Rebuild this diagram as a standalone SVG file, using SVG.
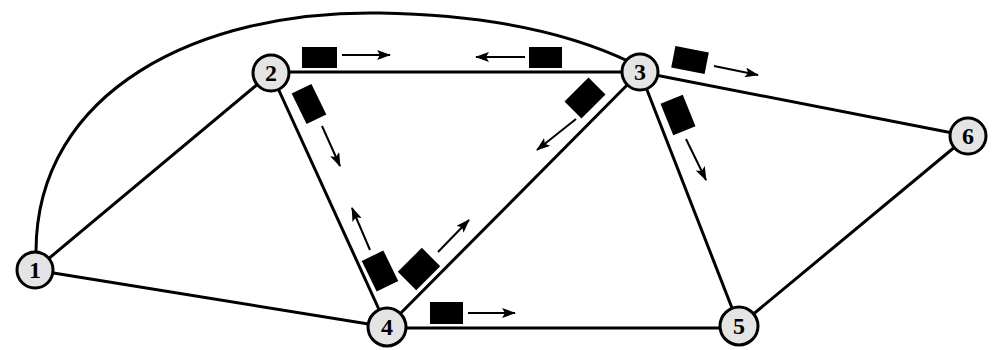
<svg xmlns="http://www.w3.org/2000/svg" width="992" height="350" viewBox="0 0 992 350">
<style>
.edge{stroke:#000;stroke-width:3;fill:none;stroke-linecap:round}
.node circle{fill:#e4e4e4;stroke:#000;stroke-width:3}
.node text{font-family:"Liberation Serif",serif;font-weight:bold;font-size:24px;text-anchor:middle;fill:#000}
.pkt{fill:#000}
.arr{stroke:#000;stroke-width:2;fill:none;marker-end:url(#ah)}
</style>
<defs>
<marker id="ah" markerWidth="14" markerHeight="10" refX="13" refY="5" orient="auto" markerUnits="userSpaceOnUse">
<path d="M0,0 L14,5 L0,10 L3,5 Z" fill="#000"/>
</marker>
</defs>
<rect width="992" height="350" fill="#fff"/>
<g id="connectors">
<path class="edge" d="M36,252 C36,90 200,10 380,13 C500,15 580,38 630,62"/>
<line class="edge" x1="35" y1="270" x2="271" y2="73"/>
<line class="edge" x1="35" y1="270" x2="387" y2="327"/>
<line class="edge" x1="271" y1="72" x2="640" y2="72"/>
<line class="edge" x1="271" y1="73" x2="387" y2="327"/>
<line class="edge" x1="640" y1="72" x2="387" y2="327"/>
<line class="edge" x1="640" y1="72" x2="739" y2="326"/>
<line class="edge" x1="640" y1="72" x2="968" y2="136"/>
<line class="edge" x1="387" y1="328" x2="739" y2="328"/>
<line class="edge" x1="739" y1="326" x2="968" y2="136"/>
</g>
<g id="packets">
<rect class="pkt" x="302" y="47" width="35" height="21"/>
<rect class="pkt" x="529" y="47" width="33" height="21"/>
<rect class="pkt" x="-17" y="-11" width="34" height="22" transform="translate(309,104) rotate(64)"/>
<rect class="pkt" x="-17" y="-12" width="34" height="24" transform="translate(585,98) rotate(-45)"/>
<rect class="pkt" x="-17" y="-11" width="34" height="22" transform="translate(690,60) rotate(11)"/>
<rect class="pkt" x="-17" y="-12" width="34" height="24" transform="translate(678,115) rotate(68)"/>
<rect class="pkt" x="-17" y="-12" width="34" height="24" transform="translate(380,271) rotate(64)"/>
<rect class="pkt" x="-17" y="-13" width="34" height="26" transform="translate(419,269) rotate(-45)"/>
<rect class="pkt" x="430" y="302" width="33" height="22"/>
</g>
<g id="arrows">
<line class="arr" x1="342" y1="55" x2="390" y2="55"/>
<line class="arr" x1="525" y1="57" x2="476" y2="57"/>
<line class="arr" x1="322" y1="126" x2="340" y2="166"/>
<line class="arr" x1="576" y1="119" x2="537" y2="150"/>
<line class="arr" x1="714" y1="66" x2="758" y2="75"/>
<line class="arr" x1="686" y1="139" x2="706" y2="180"/>
<line class="arr" x1="370" y1="250" x2="352" y2="208"/>
<line class="arr" x1="438" y1="252" x2="469" y2="220"/>
<line class="arr" x1="468" y1="313" x2="515" y2="313"/>
</g>
<g id="n1" class="node"><circle cx="35" cy="270" r="18"/><text x="35" y="278">1</text></g>
<g id="n2" class="node"><circle cx="271" cy="73" r="18"/><text x="271" y="81">2</text></g>
<g id="n3" class="node"><circle cx="640" cy="72" r="18"/><text x="640" y="80">3</text></g>
<g id="n4" class="node"><circle cx="387" cy="327" r="19"/><text x="387" y="335">4</text></g>
<g id="n5" class="node"><circle cx="739" cy="326" r="19"/><text x="739" y="334">5</text></g>
<g id="n6" class="node"><circle cx="968" cy="136" r="18"/><text x="968" y="144">6</text></g>
</svg>
